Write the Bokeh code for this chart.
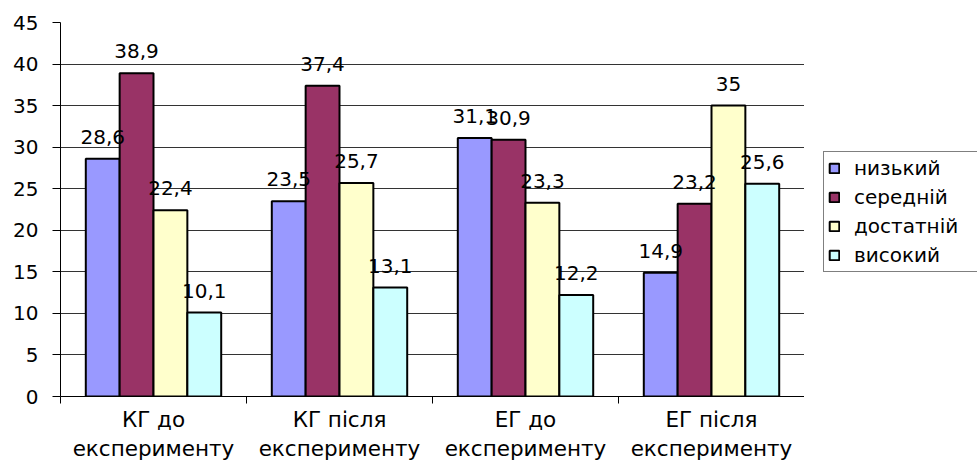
from bokeh.plotting import figure
from bokeh.models import FixedTicker, Legend, LegendItem, ColumnDataSource, Range1d
from bokeh.layouts import row
from bokeh.core.properties import value
from bokeh.embed import file_html
from bokeh.resources import INLINE

groups = ["КГ до\nексперименту", "КГ після\nексперименту", "ЕГ до\nексперименту", "ЕГ після\nексперименту"]
series = ["низький", "середній", "достатній", "високий"]
colors = ["#9999FF", "#993366", "#FFFFCC", "#CCFFFF"]
low = [28.6, 23.5, 31.1, 14.9]
mid = [38.9, 37.4, 30.9, 23.2]
suff = [22.4, 25.7, 23.3, 35.0]
high = [10.1, 13.1, 12.2, 25.6]
values = [low, mid, suff, high]
y_ticks = list(range(0, 50, 5))

FONT = "DejaVu Sans"

p = figure(frame_width=744, frame_height=374, output_backend="svg", toolbar_location=None,
           x_range=Range1d(0, 4), y_range=Range1d(0, 45),
           min_border_left=60, min_border_top=22, min_border_bottom=64, min_border_right=0)
p.outline_line_color = None
p.background_fill_color = "white"

bw = 0.182
offsets = [-1.5 * bw, -0.5 * bw, 0.5 * bw, 1.5 * bw]
centers = [i + 0.5 for i in range(len(groups))]

for k, (name, col, vals) in enumerate(zip(series, colors, values)):
    xs = [c + offsets[k] for c in centers]
    src = ColumnDataSource(dict(x=xs, top=vals))
    p.vbar(x="x", top="top", bottom=0, width=bw, source=src,
           fill_color=col, line_color="black", line_width=2)

for k, vals in enumerate(values):
    xs = [c + offsets[k] for c in centers]
    txt = [(f"{v:g}").replace(".", ",") for v in vals]
    p.text(x=xs, y=vals, text=txt, text_align="center", text_baseline="bottom",
           y_offset=-15, text_font=value(FONT), text_font_size="20px", text_color="black")

# axes
p.yaxis.ticker = FixedTicker(ticks=y_ticks)
p.yaxis.major_label_text_font = FONT
p.yaxis.major_label_text_font_size = "20px"
p.yaxis.major_label_text_color = "black"
p.yaxis.axis_line_color = "black"
p.yaxis.axis_line_width = 1
p.yaxis.major_tick_line_color = "black"
p.yaxis.major_tick_out = 8
p.yaxis.major_tick_in = 0
p.yaxis.minor_tick_line_color = None
p.yaxis.major_label_standoff = 14

p.xaxis.ticker = FixedTicker(ticks=centers, minor_ticks=[0, 1, 2, 3, 4])
p.xaxis.major_label_overrides = {c: g for c, g in zip(centers, groups)}
p.xaxis.major_label_text_font = FONT
p.xaxis.major_label_text_font_size = "21.5px"
p.xaxis.major_label_text_color = "black"
p.xaxis.major_label_text_line_height = 1.16
p.xaxis.major_tick_line_color = None
p.xaxis.minor_tick_line_color = "black"
p.xaxis.minor_tick_out = 7
p.xaxis.minor_tick_in = 0
p.xaxis.axis_line_color = "black"
p.xaxis.major_label_standoff = 3

p.xgrid.grid_line_color = None
p.ygrid.ticker = FixedTicker(ticks=y_ticks)
p.ygrid.grid_line_color = "#333333"
p.ygrid.grid_line_width = 1

# legend panel: hidden sample bars supply the legend swatches
pl = figure(width=173, height=460, output_backend="svg", toolbar_location=None,
            x_range=Range1d(0, 4), y_range=Range1d(0, 45),
            min_border=0)
pl.axis.visible = False
pl.grid.visible = False
pl.outline_line_color = None
items = []
for name, col, vals in zip(series, colors, values):
    r = pl.vbar(x=[centers[0]], top=[vals[0]], width=bw, fill_color=col,
                line_color="black", line_width=2, visible=False)
    items.append(LegendItem(label=name, renderers=[r]))
legend = Legend(items=items, location=(19, 121), label_text_font=FONT,
                label_text_font_size="20px", label_text_color="black",
                border_line_color="black", border_line_width=1,
                glyph_width=12, glyph_height=12, spacing=5, padding=4,
                label_width=140, inactive_fill_alpha=0,
                label_standoff=14, margin=0, background_fill_alpha=1)
pl.add_layout(legend, "center")

open("out.html", "w").write(file_html(row(p, pl), INLINE))
